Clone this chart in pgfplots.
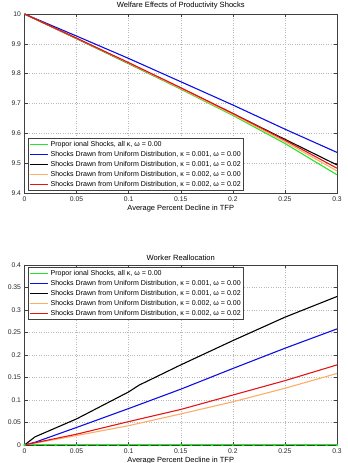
\documentclass[border=0pt]{standalone}
\usepackage{pgfplots}
\pgfplotsset{compat=1.18}
\usepackage{fontspec}
\setmainfont{Liberation Sans}
\definecolor{cgreen}{rgb}{0.15,0.9,0.15}
\definecolor{cblue}{rgb}{0.05,0.05,0.9}
\definecolor{corange}{rgb}{1,0.68,0.4}
\definecolor{cred}{rgb}{0.9,0.08,0.08}
\pgfplotsset{
  mystyle/.style={
    scale only axis,
    width=312.5bp,
    xmin=0, xmax=0.3,
    xtick={0,0.05,0.1,0.15,0.2,0.25,0.3},
    xticklabels={0,0.05,0.1,0.15,0.2,0.25,0.3},
    grid=major,
    major grid style={dotted, gray!55, line width=0.4pt},
    axis line style={line width=0.6pt, black!75},
    tick style={black!75, line width=0.4pt},
    tick align=inside,
    major tick length=3bp,
    ticklabel style={font=\fontsize{6.8}{8}\selectfont, black!85},
    title style={font=\fontsize{7.6}{9}\selectfont, yshift=-5bp},
    xlabel style={font=\fontsize{7.5}{9}\selectfont, yshift=3bp},
    xlabel={Average Percent Decline in TFP},
    legend style={font=\fontsize{7.1}{8.6}\selectfont, draw=black!75, line width=0.6pt, inner sep=0.8pt, row sep=-0.6pt, fill=white},
    legend cell align=left,
    every axis plot/.append style={line width=1.1pt},
  }
}
\begin{document}
\begin{tikzpicture}[x=1bp,y=1bp]
\useasboundingbox (0,0) rectangle (347,463);
\begin{axis}[mystyle, at={(24.5bp,270bp)}, anchor=south west, height=179bp,
  ymin=9.4, ymax=10, ytick={9.4,9.5,9.6,9.7,9.8,9.9,10},
  yticklabels={9.4,9.5,9.6,9.7,9.8,9.9,10},
  title={Welfare Effects of Productivity Shocks},
  legend image code/.code={\draw[#1, line width=1.1pt] (0cm,0cm) -- (0.65cm,0cm);},
  legend style={at={(0.011,0.012)}, anchor=south west}]
\addplot[cgreen] coordinates {(0,10) (0.05,9.917) (0.1,9.833) (0.15,9.748) (0.2,9.660) (0.25,9.566) (0.3,9.461)};
\addplot[cblue] coordinates {(0,10) (0.05,9.926) (0.1,9.851) (0.15,9.773) (0.2,9.695) (0.25,9.614) (0.3,9.536)};
\addplot[black] coordinates {(0,10) (0.05,9.918) (0.1,9.835) (0.15,9.751) (0.2,9.666) (0.25,9.580) (0.3,9.494)};
\addplot[corange] coordinates {(0,10) (0.05,9.918) (0.1,9.835) (0.15,9.750) (0.2,9.663) (0.25,9.572) (0.3,9.474)};
\addplot[cred] coordinates {(0,10) (0.05,9.919) (0.1,9.837) (0.15,9.753) (0.2,9.667) (0.25,9.577) (0.3,9.483)};
\legend{{Propor ional Shocks, all κ,  ω = 0.00},
{Shocks Drawn from Uniform Distribution, κ = 0.001,  ω = 0.00},
{Shocks Drawn from Uniform Distribution, κ = 0.001,  ω = 0.02},
{Shocks Drawn from Uniform Distribution, κ = 0.002,  ω = 0.00},
{Shocks Drawn from Uniform Distribution, κ = 0.002,  ω = 0.02}}
\end{axis}
\begin{axis}[mystyle, at={(24.5bp,18bp)}, anchor=south west, height=180bp,
  ymin=0, ymax=0.4, ytick={0,0.05,0.1,0.15,0.2,0.25,0.3,0.35,0.4},
  yticklabels={0,0.05,0.1,0.15,0.2,0.25,0.3,0.35,0.4},
  title={Worker Reallocation},
  legend image code/.code={\draw[#1, line width=1.1pt] (0cm,0cm) -- (0.65cm,0cm);},
  legend style={at={(0.011,0.988)}, anchor=north west}]
\addplot[cgreen] coordinates {(0,0) (0.01,0) (0.02,0) (0.03,0) (0.04,0) (0.05,0) (0.06,0) (0.07,0) (0.08,0) (0.09,0) (0.1,0) (0.11,0) (0.12,0) (0.13,0) (0.14,0) (0.15,0) (0.16,0) (0.17,0) (0.18,0) (0.19,0) (0.2,0) (0.21,0) (0.22,0) (0.23,0) (0.24,0) (0.25,0) (0.26,0) (0.27,0) (0.28,0) (0.29,0) (0.3,0)};
\addplot[cblue] coordinates {(0,0) (0.01,0.006) (0.05,0.039) (0.1,0.081) (0.15,0.124) (0.2,0.170) (0.25,0.215) (0.3,0.258)};
\addplot[black] coordinates {(0,0) (0.01,0.018) (0.05,0.058) (0.1,0.118) (0.11,0.133) (0.15,0.178) (0.2,0.232) (0.25,0.284) (0.3,0.330)};
\addplot[corange] coordinates {(0,0) (0.01,0.004) (0.05,0.021) (0.1,0.043) (0.15,0.069) (0.2,0.096) (0.25,0.126) (0.3,0.159)};
\addplot[cred] coordinates {(0,0) (0.01,0.005) (0.05,0.024) (0.1,0.052) (0.15,0.079) (0.2,0.111) (0.25,0.143) (0.3,0.178)};
\addplot[cgreen, only marks, mark=*, mark size=0.55pt, forget plot] coordinates {(0,0) (0.01,0) (0.02,0) (0.03,0) (0.04,0) (0.05,0) (0.06,0) (0.07,0) (0.08,0) (0.09,0) (0.1,0) (0.11,0) (0.12,0) (0.13,0) (0.14,0) (0.15,0) (0.16,0) (0.17,0) (0.18,0) (0.19,0) (0.2,0) (0.21,0) (0.22,0) (0.23,0) (0.24,0) (0.25,0) (0.26,0) (0.27,0) (0.28,0) (0.29,0) (0.3,0)};
\legend{{Propor ional Shocks, all κ,  ω = 0.00},
{Shocks Drawn from Uniform Distribution, κ = 0.001,  ω = 0.00},
{Shocks Drawn from Uniform Distribution, κ = 0.001,  ω = 0.02},
{Shocks Drawn from Uniform Distribution, κ = 0.002,  ω = 0.00},
{Shocks Drawn from Uniform Distribution, κ = 0.002,  ω = 0.02}}
\end{axis}
\end{tikzpicture}
\end{document}
